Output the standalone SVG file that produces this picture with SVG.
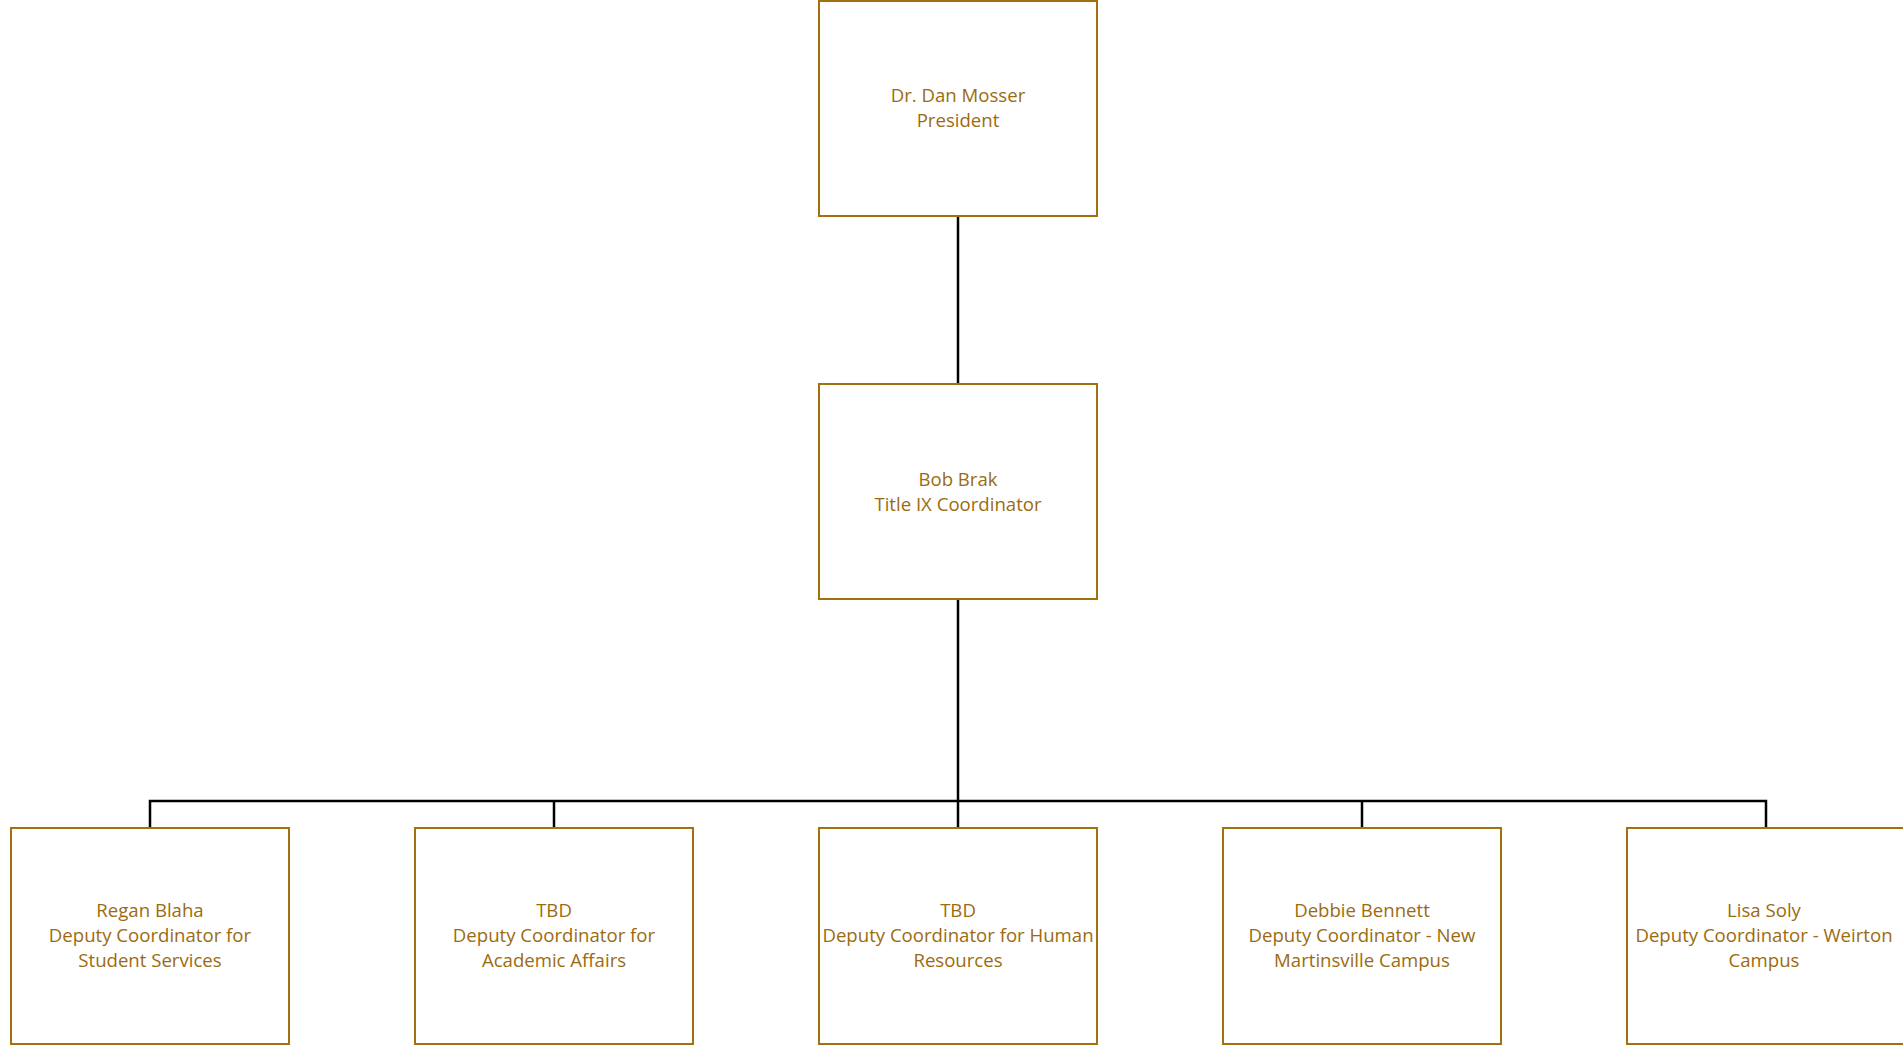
<svg xmlns="http://www.w3.org/2000/svg" width="1903" height="1046" viewBox="0 0 1903 1046">
<style>
.box{fill:#fff;stroke:#A2700F;stroke-width:2}
.lbl{font-family:"Open Sans","Noto Sans",sans-serif;font-size:18.6px;fill:#9C6B10;text-anchor:middle}
.conn{stroke:#000;stroke-width:2.5;fill:none}
</style>
<rect width="1903" height="1046" fill="#fff"/>
<g id="connectors">
<path class="conn" d="M958 216V384"/>
<path class="conn" d="M958 599V801"/>
<path class="conn" d="M150 828V801H1766V828"/>
<path class="conn" d="M554 801V828"/>
<path class="conn" d="M958 801V828"/>
<path class="conn" d="M1362 801V828"/>
</g>
<g id="president">
<rect class="box" x="819" y="1" width="278" height="215"/>
<text class="lbl" x="958" y="102">Dr. Dan Mosser</text>
<text class="lbl" x="958" y="127">President</text>
</g>
<g id="title-ix">
<rect class="box" x="819" y="384" width="278" height="215"/>
<text class="lbl" x="958" y="486">Bob Brak</text>
<text class="lbl" x="958" y="511">Title IX Coordinator</text>
</g>
<g id="student-services">
<rect class="box" x="11" y="828" width="278" height="216"/>
<text class="lbl" x="150" y="917">Regan Blaha</text>
<text class="lbl" x="150" y="942">Deputy Coordinator for</text>
<text class="lbl" x="150" y="967">Student Services</text>
</g>
<g id="academic-affairs">
<rect class="box" x="415" y="828" width="278" height="216"/>
<text class="lbl" x="554" y="917">TBD</text>
<text class="lbl" x="554" y="942">Deputy Coordinator for</text>
<text class="lbl" x="554" y="967">Academic Affairs</text>
</g>
<g id="human-resources">
<rect class="box" x="819" y="828" width="278" height="216"/>
<text class="lbl" x="958" y="917">TBD</text>
<text class="lbl" x="958" y="942">Deputy Coordinator for Human</text>
<text class="lbl" x="958" y="967">Resources</text>
</g>
<g id="new-martinsville">
<rect class="box" x="1223" y="828" width="278" height="216"/>
<text class="lbl" x="1362" y="917">Debbie Bennett</text>
<text class="lbl" x="1362" y="942">Deputy Coordinator - New</text>
<text class="lbl" x="1362" y="967">Martinsville Campus</text>
</g>
<g id="weirton">
<rect class="box" x="1627" y="828" width="278" height="216"/>
<text class="lbl" x="1764" y="917">Lisa Soly</text>
<text class="lbl" x="1764" y="942">Deputy Coordinator - Weirton</text>
<text class="lbl" x="1764" y="967">Campus</text>
</g>
</svg>
